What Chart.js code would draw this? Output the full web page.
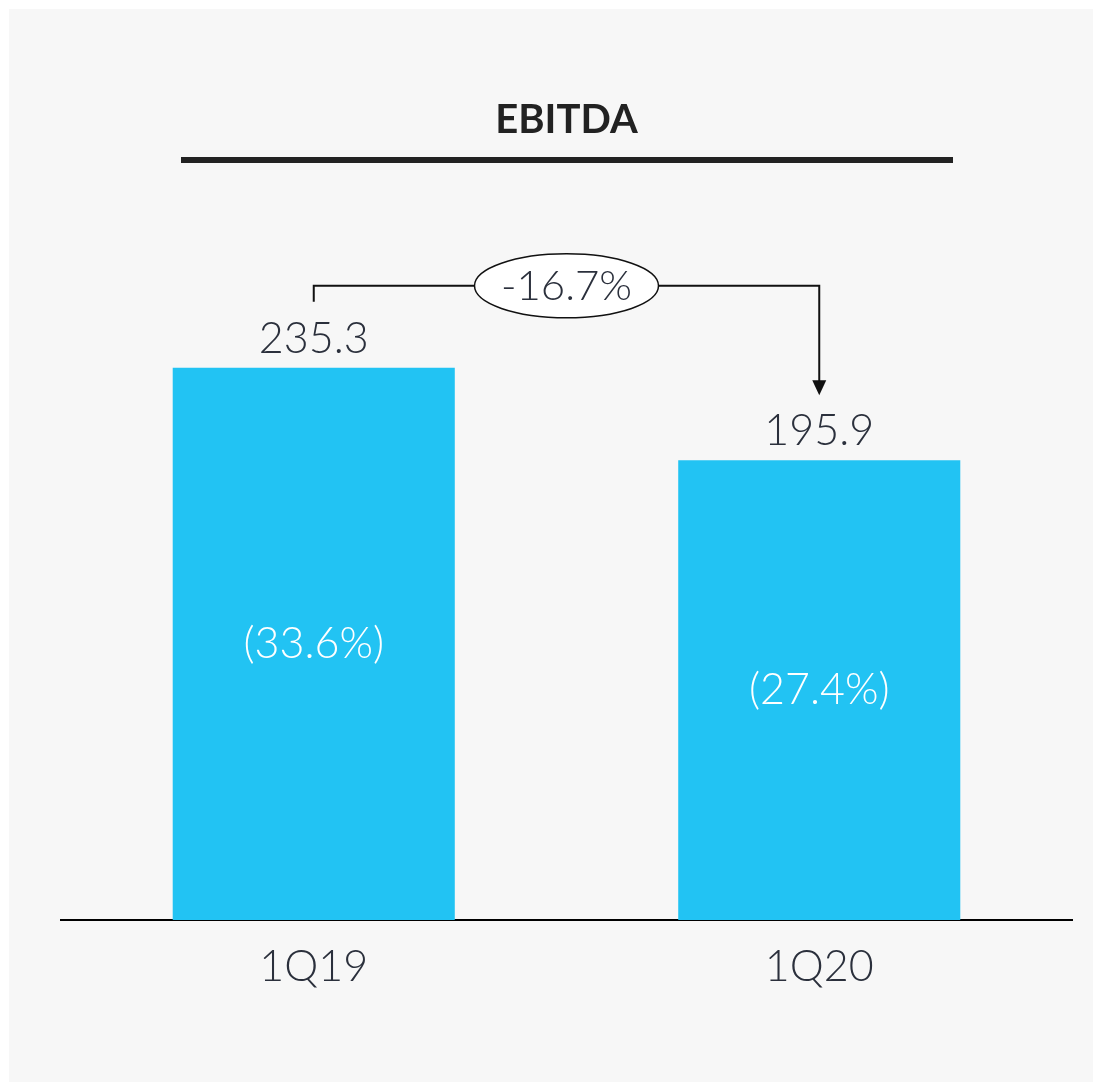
<!DOCTYPE html>
<html>
<head>
<meta charset="utf-8">
<script src="https://cdn.jsdelivr.net/npm/chart.js@4"></script>
<style>
html,body{margin:0;padding:0;background:#ffffff;}
#wrap{width:1101px;height:1084px;position:relative;}
</style>
</head>
<body>
<div id="wrap"><canvas id="c" width="1101" height="1084"></canvas></div>
<script>
const categories = ['1Q19', '1Q20'];
const ebitdaValues = [235.3, 195.9];
const valueLabels = ['235.3', '195.9'];
const marginLabels = ['(33.6%)', '(27.4%)'];
const changeLabel = '-16.7%';
const chartTitle = 'EBITDA';

const TEXT = '#2b303c';
const FONT = 'Lato, "Open Sans", sans-serif';

const bgPlugin = {
  id: 'bg',
  beforeDraw(chart) {
    const ctx = chart.ctx;
    ctx.save();
    ctx.fillStyle = '#ffffff';
    ctx.fillRect(0, 0, chart.width, chart.height);
    ctx.fillStyle = '#f7f7f7';
    ctx.fillRect(9, 9, 1084, 1073);
    ctx.restore();
  },
  afterDraw(chart) {
    const ctx = chart.ctx;
    ctx.save();
    ctx.fillStyle = '#222222';
    ctx.fillRect(181, 157, 772, 6);
    ctx.restore();
  }
};

const labelPlugin = {
  id: 'labels',
  afterDatasetsDraw(chart) {
    const ctx = chart.ctx;
    const meta = chart.getDatasetMeta(0);
    ctx.save();
    ctx.textAlign = 'center';
    meta.data.forEach((bar, i) => {
      ctx.fillStyle = TEXT;
      ctx.font = '300 43px ' + FONT;
      ctx.textBaseline = 'alphabetic';
      ctx.fillText(valueLabels[i], bar.x, bar.y - 15);
      ctx.fillStyle = '#ffffff';
      ctx.textBaseline = 'middle';
      ctx.fillText(marginLabels[i], bar.x, (bar.y + bar.base) / 2);
    });
    const b1 = meta.data[0], b2 = meta.data[1];
    const yLine = b1.y - 82;
    const yLeft = b1.y - 66;
    const yTip = b2.y - 65;
    ctx.strokeStyle = '#111111';
    ctx.lineWidth = 2;
    ctx.beginPath();
    ctx.moveTo(b1.x, yLeft);
    ctx.lineTo(b1.x, yLine);
    ctx.lineTo(b2.x, yLine);
    ctx.lineTo(b2.x, yTip - 14);
    ctx.stroke();
    ctx.fillStyle = '#111111';
    ctx.beginPath();
    ctx.moveTo(b2.x - 7, yTip - 15);
    ctx.lineTo(b2.x + 7, yTip - 15);
    ctx.lineTo(b2.x, yTip);
    ctx.closePath();
    ctx.fill();
    const cx = (b1.x + b2.x) / 2;
    ctx.beginPath();
    ctx.ellipse(cx, yLine, 92, 32, 0, 0, Math.PI * 2);
    ctx.fillStyle = '#ffffff';
    ctx.fill();
    ctx.lineWidth = 1.5;
    ctx.stroke();
    ctx.fillStyle = TEXT;
    ctx.font = '300 42px ' + FONT;
    ctx.textBaseline = 'middle';
    ctx.fillText(changeLabel, cx, yLine + 1);
    ctx.restore();
  }
};

new Chart(document.getElementById('c'), {
  type: 'bar',
  data: {
    labels: categories,
    datasets: [{
      data: ebitdaValues,
      backgroundColor: '#22c3f3',
      borderWidth: 0,
      barPercentage: 0.558,
      categoryPercentage: 1
    }]
  },
  options: {
    responsive: false,
    animation: false,
    devicePixelRatio: 1,
    layout: { padding: { left: 61, right: 29, top: 0, bottom: 0 } },
    plugins: {
      legend: { display: false },
      tooltip: { enabled: false },
      title: {
        display: true,
        text: chartTitle,
        color: '#222222',
        font: { family: FONT, size: 40, weight: 'bold', lineHeight: 1.2 },
        padding: { top: 96, bottom: 72 }
      }
    },
    scales: {
      x: {
        grid: { display: false, drawTicks: false },
        border: { display: true, color: '#000000', width: 2 },
        ticks: { color: TEXT, font: { family: FONT, size: 43, weight: '300' }, padding: 21 },
        afterFit(scale) { scale.height = 164; }
      },
      y: {
        display: false,
        min: 0,
        max: 300
      }
    }
  },
  plugins: [bgPlugin, labelPlugin]
});
</script>
</body>
</html>
